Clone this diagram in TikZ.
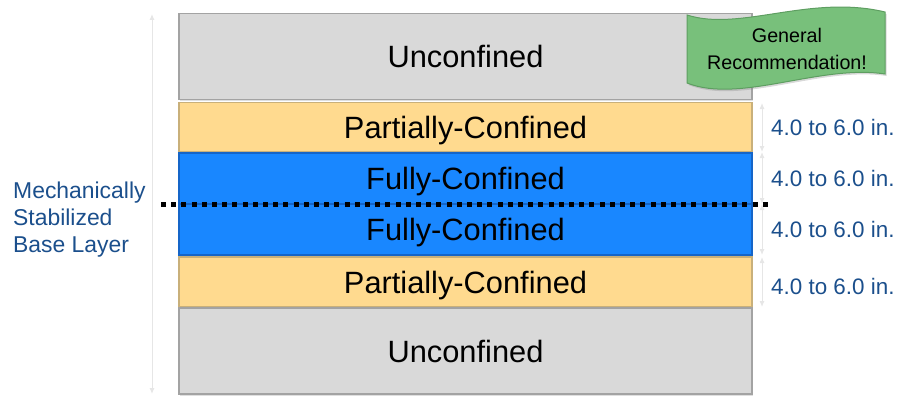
\documentclass[tikz,border=0pt]{standalone}
\usepackage{fontspec}
\setmainfont{Liberation Sans}
\usetikzlibrary{arrows.meta,shadows}
\definecolor{greyfill}{HTML}{D9D9D9}
\definecolor{greyline}{HTML}{A3A3A3}
\definecolor{yellowfill}{HTML}{FFDA8F}
\definecolor{yellowline}{HTML}{C9B07A}
\definecolor{bluefill}{HTML}{1987FF}
\definecolor{blueline}{HTML}{1565C8}
\definecolor{greenfill}{HTML}{78C07B}
\definecolor{greenline}{HTML}{5E9E61}
\definecolor{labelblue}{HTML}{1B4F8C}
\definecolor{dimgrey}{HTML}{E6E6E6}
\tikzset{
  layer/.style={draw, line width=1.2pt, minimum width=573pt, inner sep=0pt,
    font=\fontsize{30.8}{36}\selectfont, text height=22pt, text depth=0pt,
    drop shadow={opacity=0.25, shadow xshift=1pt, shadow yshift=-1.5pt}},
  unconf/.style={layer, fill=greyfill, draw=greyline},
  partconf/.style={layer, fill=yellowfill, draw=yellowline},
  fullconf/.style={layer, fill=bluefill, draw=blueline},
  sidelabel/.style={anchor=west, text=labelblue, inner sep=0pt, font=\fontsize{22.4}{27}\selectfont},
  dimline/.style={draw=dimgrey, line width=1pt, {Latex[length=6pt,width=5pt]}-{Latex[length=6pt,width=5pt]}},
}
\begin{document}
\begin{tikzpicture}[x=1pt,y=-1pt]
\useasboundingbox (0,0) rectangle (901,396);
% layers
\node[unconf, minimum height=86pt] (u1) at (465.5,56.5) {Unconfined};
\node[partconf, minimum height=49pt] (p1) at (465.5,127) {Partially-Confined};
\node[fullconf, minimum height=51pt] (f1) at (465.5,178.5) {Fully-Confined};
\node[fullconf, minimum height=51pt] (f2) at (465.5,229.5) {Fully-Confined};
\node[partconf, minimum height=50pt] (p2) at (465.5,282) {Partially-Confined};
\node[unconf, minimum height=86pt] (u2) at (465.5,351) {Unconfined};
% banner
\path[fill=greenfill, draw=greenline, line width=1pt,
  drop shadow={opacity=0.3, shadow xshift=1.5pt, shadow yshift=-2pt}]
  (687,15) .. controls (740,32) and (810,-6) .. (885,12)
  -- (885,74) .. controls (820,64) and (740,104) .. (687,83) -- cycle;
\node[align=center, inner sep=0pt, font=\fontsize{19.7}{27}\selectfont] (banner) at (787,48.5) {General\\Recommendation!};
% left label
\node[anchor=west, align=left, inner sep=0pt, text=labelblue, font=\fontsize{22.9}{27}\selectfont] (msbl) at (13,219.5) {Mechanically\\Stabilized\\Base Layer};
% dimension lines
\coordinate (lt) at (152,14);
\coordinate (lb) at (152,394);
\draw[dimline] (lt) -- (lb);
\coordinate (r0) at (762,103);
\coordinate (r1) at (762,152);
\coordinate (r2) at (762,204);
\coordinate (r3) at (762,255);
\coordinate (r4) at (762,257);
\coordinate (r5) at (762,307);
\draw[dimline] (r0) -- (r1);
\draw[dimline] (r1) -- (r2);
\draw[dimline] (r2) -- (r3);
\draw[dimline] (r4) -- (r5);
\node[sidelabel] (s1) at (771,127) {4.0 to 6.0 in.};
\node[sidelabel] (s2) at (771,178) {4.0 to 6.0 in.};
\node[sidelabel] (s3) at (771,229) {4.0 to 6.0 in.};
\node[sidelabel] (s4) at (771,286) {4.0 to 6.0 in.};
% dotted boundary
\coordinate (dl) at (161,204);
\coordinate (dr) at (772,204);
\draw[line width=5pt, dash pattern=on 5pt off 5.2pt] (dl) -- (dr);
\end{tikzpicture}
\end{document}
